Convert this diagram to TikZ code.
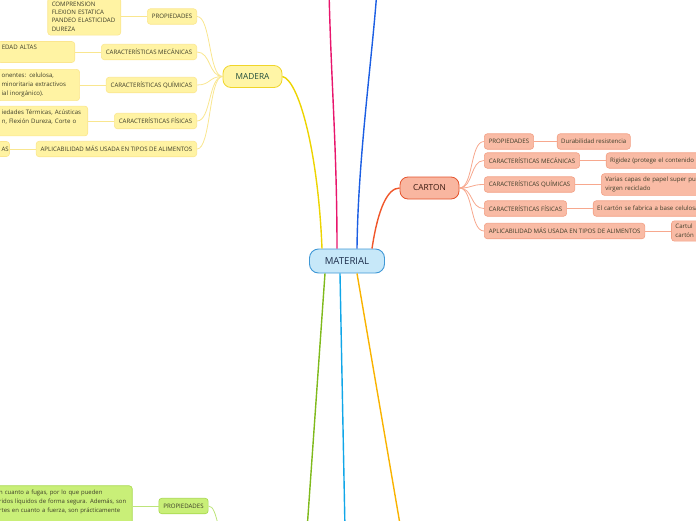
\documentclass[tikz,border=0pt]{standalone}
\usepackage{fontspec}
\setmainfont{Open Sans}
\usetikzlibrary{positioning}

\definecolor{matfill}{HTML}{C7E8F9}
\definecolor{matline}{HTML}{3F98D6}
\definecolor{matink}{HTML}{1A2B49}
\definecolor{madmain}{HTML}{EDD400}
\definecolor{madfill}{HTML}{FFF5A6}
\definecolor{madline}{HTML}{F0D52A}
\definecolor{madink}{HTML}{1E4B3B}
\definecolor{mcatfill}{HTML}{FFF3A3}
\definecolor{mcatline}{HTML}{FBE68F}
\definecolor{madtwig}{HTML}{F9E68F}
\definecolor{carmain}{HTML}{F0562A}
\definecolor{carfill}{HTML}{F9B6A0}
\definecolor{carline}{HTML}{E5532C}
\definecolor{carink}{HTML}{3A1A10}
\definecolor{ccatfill}{HTML}{F9BBA5}
\definecolor{ccatline}{HTML}{F2A085}
\definecolor{cartwig}{HTML}{F7A88E}
\definecolor{gcatfill}{HTML}{C9EF78}
\definecolor{gcatline}{HTML}{A6D84C}
\definecolor{gtwig}{HTML}{BDE47A}
\definecolor{pinkmain}{HTML}{E8156C}
\definecolor{bluemain}{HTML}{1B5EE3}
\definecolor{greenmain}{HTML}{7FBA1C}
\definecolor{cyanmain}{HTML}{10A6E8}
\definecolor{orangemain}{HTML}{F9B300}
\definecolor{catink}{HTML}{3C3C28}

\tikzset{
  hub/.style={draw=matline, fill=matfill, rounded corners=9pt, line width=0.9pt,
    minimum width=75pt, minimum height=24pt, text=matink, font=\fontsize{9.6}{10}\selectfont},
  topic/.style={draw, rounded corners=8pt, line width=0.8pt, minimum width=59pt,
    minimum height=22pt, font=\fontsize{8.3}{9}\selectfont},
  cat/.style={draw, rounded corners=3pt, line width=0.6pt, inner xsep=4.5pt, inner ysep=0pt,
    minimum height=15.5pt, text=catink, font=\fontsize{6.1}{7}\selectfont},
  leaf/.style={draw, rounded corners=3pt, line width=0.6pt, inner sep=4pt, align=left,
    text=catink, font=\fontsize{6.1}{8.6}\selectfont},
  mcat/.style={draw=mcatline, fill=mcatfill},
  ccat/.style={draw=ccatline, fill=ccatfill},
  gcat/.style={draw=gcatline, fill=gcatfill},
  branch/.style={line width=1.4pt},
  twig/.style={line width=0.8pt},
}

\begin{document}
\begin{tikzpicture}[x=1pt, y=-1pt, node distance=26pt]
  \useasboundingbox (0,0) rectangle (696,520);
  \clip (0,0) rectangle (696,520);

  % centre and main topics
  \node[hub] (mat) at (347,261) {MATERIAL};
  \node[topic, draw=madline, fill=madfill, text=madink] (mad) at (252.5,76.5) {MADERA};
  \node[topic, draw=carline, fill=carfill, text=carink] (car) at (429.5,188) {CARTON};

  % topics outside the page
  \coordinate (pinktop) at (329,-10);
  \coordinate (bluetop) at (377,-10);
  \coordinate (greenend) at (307,530);
  \coordinate (cyanend) at (345,530);
  \coordinate (orangeend) at (401,530);
  \coordinate (gtop) at (230,540);

  \draw[branch, madmain] ([xshift=-25pt]mat.north) .. controls +(-4,-99) and +(16,3.5) .. (mad.east);
  \draw[branch, pinkmain] ([xshift=-10pt]mat.north) .. controls +(0,-100) and +(2,90) .. (pinktop);
  \draw[branch, bluemain] ([xshift=10pt]mat.north) .. controls +(1,-90) and +(-5,70) .. (bluetop);
  \draw[branch, carmain] ([xshift=25pt]mat.north) .. controls +(6,-40) and +(-12,0) .. (car.west);
  \draw[branch, greenmain] ([xshift=-22pt]mat.south) -- (greenend);
  \draw[branch, cyanmain] ([xshift=-7pt]mat.south) -- (cyanend);
  \draw[branch, orangemain] ([xshift=10pt]mat.south) -- (orangeend);

  % MADERA
  \node[cat, mcat, anchor=east] (mprop) at (197,16.5) {PROPIEDADES};
  \node[cat, mcat, anchor=east] (mmec) at (197,52) {CARACTERÍSTICAS MECÁNICAS};
  \node[cat, mcat, anchor=east] (mquim) at (197,85) {CARACTERÍSTICAS QUÍMICAS};
  \node[cat, mcat, anchor=east] (mfis) at (197,121) {CARACTERÍSTICAS FÍSICAS};
  \node[cat, mcat, anchor=east] (mapl) at (197,149) {APLICABILIDAD MÁS USADA EN TIPOS DE ALIMENTOS};

  \node[leaf, mcat, left=of mprop, text width=65pt, font=\fontsize{6.1}{8.3}\selectfont] (mprop-leaf)
    {COMPRENSION\\FLEXION ESTATICA\\PANDEO ELASTICIDAD\\DUREZA};
  \node[leaf, mcat, left=of mmec, text width=69pt] (mmec-leaf) {EDAD ALTAS\\\mbox{}};
  \node[leaf, mcat, left=of mquim, text width=74pt] (mquim-leaf)
    {onentes: celulosa,\\minoritaria extractivos\\ial inorgánico).};
  \node[leaf, mcat, left=of mfis, text width=82pt] (mfis-leaf)
    {iedades Térmicas, Acústicas\\n, Flexión Dureza, Corte o\\\mbox{}};
  \node[leaf, mcat, left=of mapl, text width=4pt, align=right, inner ysep=0pt, minimum height=15pt] (mapl-leaf) {AS};

  \draw[twig, madtwig] (mad.west) .. controls +(-14,0) and +(14,0) .. (mprop.east);
  \draw[twig, madtwig] (mad.west) .. controls +(-14,0) and +(14,0) .. (mmec.east);
  \draw[twig, madtwig] (mad.west) .. controls +(-14,0) and +(14,0) .. (mquim.east);
  \draw[twig, madtwig] (mad.west) .. controls +(-14,0) and +(14,0) .. (mfis.east);
  \draw[twig, madtwig] (mad.west) .. controls +(-14,0) and +(14,0) .. (mapl.east);
  \draw[twig, madtwig] (mprop) -- (mprop-leaf);
  \draw[twig, madtwig] (mmec) -- (mmec-leaf);
  \draw[twig, madtwig] (mquim) -- (mquim-leaf);
  \draw[twig, madtwig] (mfis) -- (mfis-leaf);
  \draw[twig, madtwig] (mapl) -- (mapl-leaf);

  % CARTON
  \node[cat, ccat, anchor=west] (cprop) at (484,141.5) {PROPIEDADES};
  \node[cat, ccat, anchor=west] (cmec) at (484,160.5) {CARACTERÍSTICAS MECÁNICAS};
  \node[cat, ccat, anchor=west] (cquim) at (484,184.5) {CARACTERÍSTICAS QUÍMICAS};
  \node[cat, ccat, anchor=west] (cfis) at (484,208.5) {CARACTERÍSTICAS FÍSICAS};
  \node[cat, ccat, anchor=west] (capl) at (484,231) {APLICABILIDAD MÁS USADA EN TIPOS DE ALIMENTOS};

  \node[leaf, ccat, right=23pt of cprop, inner ysep=0pt, minimum height=15.5pt] (cprop-leaf)
    {Durabilidad resistencia};
  \node[leaf, ccat, right=of cmec, text width=120pt, inner ysep=0pt, minimum height=15.5pt] (cmec-leaf)
    {Rigidez (protege el contenido d};
  \node[leaf, ccat, right=of cquim, text width=120pt, inner ysep=3.5pt] (cquim-leaf)
    {Varias capas de papel super pu\\virgen reciclado};
  \node[leaf, ccat, right=of cfis, text width=120pt, inner ysep=0pt, minimum height=15.5pt] (cfis-leaf)
    {El cartón se fabrica a base celulosa};
  \node[leaf, ccat, right=of capl, text width=60pt, inner ysep=3.5pt] (capl-leaf) {Cartul\\cartón};

  \draw[twig, cartwig] (car.east) .. controls +(14,0) and +(-14,0) .. (cprop.west);
  \draw[twig, cartwig] (car.east) .. controls +(14,0) and +(-14,0) .. (cmec.west);
  \draw[twig, cartwig] (car.east) .. controls +(14,0) and +(-14,0) .. (cquim.west);
  \draw[twig, cartwig] (car.east) .. controls +(14,0) and +(-14,0) .. (cfis.west);
  \draw[twig, cartwig] (car.east) .. controls +(14,0) and +(-14,0) .. (capl.west);
  \draw[twig, cartwig] (cprop) -- (cprop-leaf);
  \draw[twig, cartwig] (cmec) -- (cmec-leaf);
  \draw[twig, cartwig] (cquim) -- (cquim-leaf);
  \draw[twig, cartwig] (cfis) -- (cfis-leaf);
  \draw[twig, cartwig] (capl) -- (capl-leaf);

  % green topic, below the page
  \node[cat, gcat] (gprop) at (183.5,506) {PROPIEDADES};
  \node[leaf, gcat, left=of gprop, text width=130pt, inner xsep=3pt, font=\fontsize{5.95}{9.3}\selectfont] (gprop-leaf)
    {n cuanto a fugas, por lo que pueden\\ridos líquidos de forma segura. Además, son\\rtes en cuanto a fuerza, son prácticamente\\\mbox{}};
  \draw[twig, gtwig] (gtop) .. controls +(-14,0) and +(10,0) .. (gprop.east);
  \draw[twig, gtwig] (gprop) -- (gprop-leaf);
\end{tikzpicture}
\end{document}
